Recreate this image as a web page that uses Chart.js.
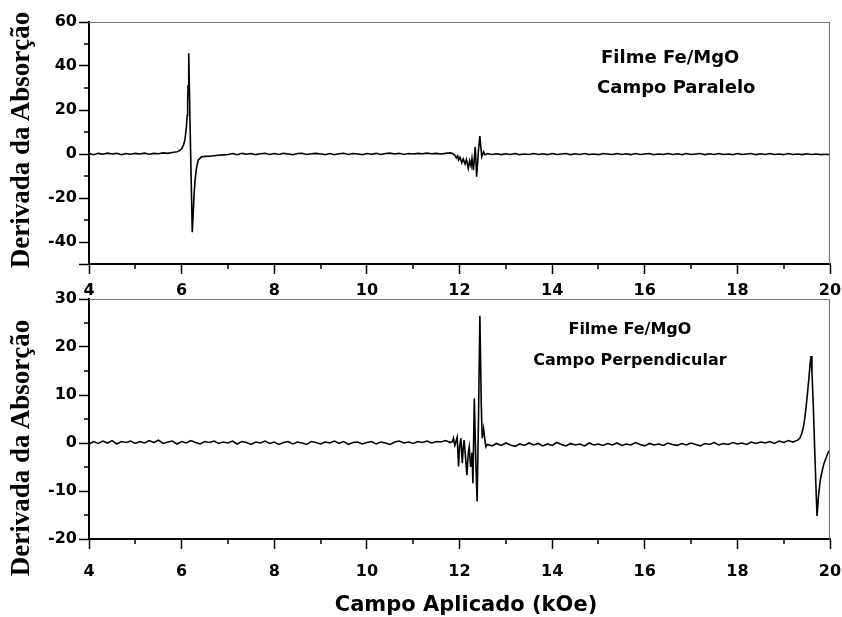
<!DOCTYPE html>
<html>
<head>
<meta charset="utf-8">
<title>Derivada da Absorção</title>
<script src="https://cdn.jsdelivr.net/npm/chart.js@4.4.0/dist/chart.umd.min.js"></script>
<style>
  body { margin: 0; background: #fff; }
  #wrap { position: relative; width: 842px; height: 617px; overflow: hidden; }
  #wrap canvas { position: absolute; left: 0; }
  .ytitle {
    position: absolute; width: 300px; height: 32px; line-height: 32px;
    text-align: center; white-space: nowrap; color: #000;
    font: bold 27px "Liberation Serif", "Times New Roman", serif;
    transform: rotate(-90deg);
  }
  .xtitle {
    position: absolute; width: 400px; height: 26px; line-height: 26px;
    text-align: center; white-space: nowrap; color: #000;
    font: bold 21px "DejaVu Sans", sans-serif;
  }
</style>
</head>
<body>
<div id="wrap">
  <canvas id="topChart" width="842" height="300" style="top:0px"></canvas>
  <canvas id="bottomChart" width="842" height="320" style="top:280px"></canvas>
  <div class="ytitle" style="left:-129px; top:124px;">Derivada da Absorção</div>
  <div class="ytitle" style="left:-129px; top:432px;">Derivada da Absorção</div>
  <div class="xtitle" style="left:266px; top:592px;">Campo Aplicado (kOe)</div>
</div>
<script>
// tick values
var xMajor = [4, 6, 8, 10, 12, 14, 16, 18, 20];
var xMinor = [5, 7, 9, 11, 13, 15, 17, 19];
var yMajorTop = [-50, -40, -20, 0, 20, 40, 60];
var yMinorTop = [-30, -10, 10, 30, 50];
var yMajorBottom = [-20, -10, 0, 10, 20, 30];
var yMinorBottom = [-15, -5, 5, 15, 25];

// campo paralelo (kOe, derivada)
var fieldTop = [
  4.0,4.1,4.2,4.3,4.4,4.5,4.6,4.7,4.8,4.9,
  5.0,5.1,5.2,5.3,5.4,5.5,5.6,5.7,5.8,5.9,
  5.95,6.0,6.04,6.07,6.1,6.12,6.13,6.14,6.15,6.157,6.19,6.23,6.25,6.27,6.29,6.32,6.36,6.43,6.5,6.6,6.7,6.8,6.9,
  7.0,7.1,7.2,7.3,7.4,7.5,7.6,7.7,7.8,7.9,
  8.0,8.1,8.2,8.3,8.4,8.5,8.6,8.7,8.8,8.9,
  9.0,9.1,9.2,9.3,9.4,9.5,9.6,9.7,9.8,9.9,
  10.0,10.1,10.2,10.3,10.4,10.5,10.6,10.7,10.8,10.9,
  11.0,11.1,11.2,11.3,11.4,11.5,11.6,11.7,11.8,
  11.85,11.9,11.93,11.96,11.98,12.01,12.05,12.08,12.12,12.15,12.19,12.22,12.25,12.27,12.3,12.34,12.37,12.41,12.44,12.48,12.52,12.55,
  12.6,12.7,12.8,12.9,13.0,13.1,13.2,13.3,13.4,13.5,
  13.6,13.7,13.8,13.9,14.0,14.1,14.2,14.3,14.4,14.5,
  14.6,14.7,14.8,14.9,15.0,15.1,15.2,15.3,15.4,15.5,
  15.6,15.7,15.8,15.9,16.0,16.1,16.2,16.3,16.4,16.5,
  16.6,16.7,16.8,16.9,17.0,17.1,17.2,17.3,17.4,17.5,
  17.6,17.7,17.8,17.9,18.0,18.1,18.2,18.3,18.4,18.5,
  18.6,18.7,18.8,18.9,19.0,19.1,19.2,19.3,19.4,19.5,
  19.6,19.7,19.8,19.9,20.0
];
var derivTop = [
  0.2,-0.3,0.3,-0.1,0.4,0.0,0.3,-0.3,0.2,-0.1,
  0.3,0.0,0.4,-0.1,0.3,0.1,0.5,0.3,0.7,1.0,
  1.4,2.4,4.0,6.4,11.5,17.5,23.5,31,40,45.8,5,-35.6,-27,-18,-12,-6.5,-2.7,-1.3,-1.1,-1.0,-0.8,-0.6,-0.4,
  -0.2,0.2,-0.3,0.3,-0.1,0.2,-0.3,0.1,0.3,-0.2,
  0.2,-0.2,0.3,0.0,-0.3,0.2,0.3,-0.2,0.1,0.3,
  0.0,-0.3,0.2,-0.3,0.1,0.3,-0.2,0.2,0.0,-0.3,
  0.2,-0.1,0.3,-0.2,0.2,0.4,0.0,0.3,-0.2,0.2,
  0.0,0.3,0.1,0.4,0.1,0.3,0.0,0.3,0.5,
  0.2,-0.6,-1.8,-0.8,-2.7,-1.5,-4.0,-2.2,-4.5,-2.5,-6.5,-3.0,-5.5,-2.0,-7.4,3.3,-10.3,1.8,8.2,-1.2,1.0,-0.3,
  0.2,-0.2,0.1,-0.3,0.1,-0.2,0.2,-0.3,0.0,-0.2,
  0.2,-0.2,0.1,-0.3,0.2,-0.2,0.0,0.2,-0.3,0.1,
  -0.2,0.2,-0.2,0.0,-0.3,0.2,0.0,-0.2,0.2,-0.2,
  0.1,-0.3,0.2,-0.2,0.0,0.2,-0.3,0.0,-0.2,0.2,
  -0.2,0.1,-0.3,0.2,-0.2,0.0,0.2,-0.3,0.1,-0.2,
  0.2,-0.2,0.0,-0.3,0.2,-0.2,0.0,0.2,-0.3,0.1,
  -0.2,0.2,-0.2,0.0,-0.3,0.2,-0.2,0.0,-0.3,0.1,
  -0.2,0.0,-0.3,-0.1,-0.2
];

// campo perpendicular (kOe, derivada)
var fieldBottom = [
  4.0,4.1,4.2,4.3,4.4,4.5,4.6,4.7,4.8,4.9,
  5.0,5.1,5.2,5.3,5.4,5.5,5.6,5.7,5.8,5.9,
  6.0,6.1,6.2,6.3,6.4,6.5,6.6,6.7,6.8,6.9,
  7.0,7.1,7.2,7.3,7.4,7.5,7.6,7.7,7.8,7.9,
  8.0,8.1,8.2,8.3,8.4,8.5,8.6,8.7,8.8,8.9,
  9.0,9.1,9.2,9.3,9.4,9.5,9.6,9.7,9.8,9.9,
  10.0,10.1,10.2,10.3,10.4,10.5,10.6,10.7,10.8,10.9,
  11.0,11.1,11.2,11.3,11.4,11.5,11.6,11.7,11.8,
  11.85,11.87,11.9,11.95,11.98,12.0,12.03,12.06,12.08,12.1,12.13,12.16,12.19,12.21,12.24,12.27,12.29,12.32,12.35,12.38,12.41,12.44,12.47,12.49,12.52,12.55,12.57,
  12.6,12.7,12.8,12.9,13.0,13.1,13.2,13.3,13.4,13.5,
  13.6,13.7,13.8,13.9,14.0,14.1,14.2,14.3,14.4,14.5,
  14.6,14.7,14.8,14.9,15.0,15.1,15.2,15.3,15.4,15.5,
  15.6,15.7,15.8,15.9,16.0,16.1,16.2,16.3,16.4,16.5,
  16.6,16.7,16.8,16.9,17.0,17.1,17.2,17.3,17.4,17.5,
  17.6,17.7,17.8,17.9,18.0,18.1,18.2,18.3,18.4,18.5,
  18.6,18.7,18.8,18.9,19.0,19.1,19.2,19.3,
  19.35,19.39,19.43,19.46,19.5,19.54,19.57,19.59,19.61,19.64,19.67,19.7,19.72,19.75,19.79,19.82,19.86,19.9,19.95,19.97,20.0
];
var derivBottom = [
  -0.2,0.3,-0.1,0.4,0.0,0.5,-0.2,0.3,0.1,0.4,
  -0.1,0.3,0.0,0.5,0.1,0.6,-0.1,0.2,0.4,-0.2,
  0.3,0.0,0.5,0.1,-0.2,0.3,0.1,0.4,-0.1,0.2,
  0.0,0.4,-0.2,0.3,0.1,-0.3,0.2,0.0,0.4,-0.1,
  0.2,-0.3,0.1,0.3,-0.2,0.2,0.0,-0.3,0.3,0.1,
  -0.2,0.2,0.0,0.4,-0.1,0.3,-0.3,0.1,0.2,-0.2,
  0.1,0.3,-0.2,0.2,0.0,-0.3,0.2,0.4,0.0,0.2,
  -0.1,0.3,0.1,0.4,0.0,0.3,0.2,0.5,0.1,
  0.3,1.0,-0.5,1.2,-4.9,-1.0,1.0,-4.2,-1.0,0.6,-3.0,-6.7,-2.0,-0.8,-5.0,-2.0,-8.4,9.3,-3.0,-12.2,5.0,26.5,8.0,1.0,3.0,0.5,-0.8,
  -0.3,-0.6,-0.1,-0.5,0.0,-0.4,-0.7,-0.2,-0.5,0.0,
  -0.4,-0.1,-0.6,-0.2,-0.5,0.1,-0.3,-0.6,-0.1,-0.4,
  -0.2,-0.6,0.0,-0.4,-0.2,-0.5,-0.1,-0.4,0.0,-0.5,
  -0.2,-0.4,0.1,-0.3,-0.6,-0.1,-0.4,-0.2,-0.5,0.0,
  -0.3,-0.5,-0.1,-0.4,0.0,-0.3,-0.6,-0.1,-0.3,0.1,
  -0.4,-0.1,-0.3,0.1,-0.2,0.0,-0.3,0.2,-0.1,0.2,
  0.0,0.3,-0.1,0.4,0.1,0.5,0.2,0.6,
  1.0,2.0,3.5,5.5,9.0,13.0,16.5,18.1,15.0,7.6,-1.5,-10.0,-15.2,-11.2,-7.7,-6.3,-4.6,-3.5,-2.2,-1.8,-1.5
];

var notesTop = [
  { text: 'Filme Fe/MgO', x: 16.55, y: 43.6 },
  { text: 'Campo Paralelo', x: 16.68, y: 30 }
];
var notesBottom = [
  { text: 'Filme Fe/MgO', x: 15.68, y: 23.5 },
  { text: 'Campo Perpendicular', x: 15.68, y: 17.1 }
];

// frame on top/right, minor ticks and the sample notes
var panelExtras = {
  id: 'panelExtras',
  afterDraw: function(chart, args, opts) {
    var ctx = chart.ctx, a = chart.chartArea, sx = chart.scales.x, sy = chart.scales.y;
    ctx.save();
    ctx.strokeStyle = '#777';
    ctx.lineWidth = 1.2;
    ctx.beginPath();
    ctx.moveTo(a.left, a.top + 0.5);
    ctx.lineTo(a.right - 0.5, a.top + 0.5);
    ctx.lineTo(a.right - 0.5, a.bottom);
    ctx.stroke();

    ctx.strokeStyle = '#000';
    ctx.lineWidth = 1.5;
    ctx.beginPath();
    opts.minorX.forEach(function(v) {
      var px = Math.round(sx.getPixelForValue(v));
      ctx.moveTo(px, a.bottom);
      ctx.lineTo(px, a.bottom + 5);
    });
    opts.minorY.forEach(function(v) {
      var py = Math.round(sy.getPixelForValue(v));
      ctx.moveTo(a.left - 5, py);
      ctx.lineTo(a.left, py);
    });
    ctx.stroke();

    ctx.fillStyle = '#000';
    ctx.textAlign = 'center';
    ctx.textBaseline = 'middle';
    ctx.font = opts.noteFont;
    opts.notes.forEach(function(n) {
      ctx.fillText(n.text, sx.getPixelForValue(n.x), sy.getPixelForValue(n.y));
    });
    ctx.restore();
  }
};

var tickFont = { family: 'DejaVu Sans', size: 16, weight: 'bold' };

function makePanel(id, xs, ys, yMin, yMax, yMajor, yMinor, notes, noteFont, padTop, xAxisHeight, xPad) {
  var points = xs.map(function(x, i) { return { x: x, y: ys[i] }; });
  return new Chart(document.getElementById(id), {
    type: 'scatter',
    data: {
      datasets: [{
        data: points,
        showLine: true,
        borderColor: '#000',
        borderWidth: 1.6,
        pointRadius: 0,
        tension: 0
      }]
    },
    options: {
      responsive: false,
      animation: false,
      layout: { padding: { top: padTop, right: 12, left: 0, bottom: 0 } },
      plugins: {
        legend: { display: false },
        tooltip: { enabled: false },
        panelExtras: { minorX: xMinor, minorY: yMinor, notes: notes, noteFont: noteFont }
      },
      scales: {
        x: {
          type: 'linear', min: 4, max: 20,
          afterBuildTicks: function(s) { s.ticks = xMajor.map(function(v) { return { value: v }; }); },
          afterFit: function(s) { s.height = xAxisHeight; s.paddingLeft = 0; s.paddingRight = 0; },
          ticks: { font: tickFont, color: '#000', padding: xPad, maxRotation: 0, autoSkip: false },
          grid: { drawOnChartArea: false, tickLength: 10, tickWidth: 1.5, tickColor: '#000' },
          border: { color: '#000', width: 2 }
        },
        y: {
          min: yMin, max: yMax,
          afterBuildTicks: function(s) { s.ticks = yMajor.map(function(v) { return { value: v }; }); },
          afterFit: function(s) { s.width = 89; s.paddingTop = 0; s.paddingBottom = 0; },
          ticks: {
            font: tickFont, color: '#000', padding: 2, autoSkip: false,
            callback: function(v) { return v === -50 ? '' : v; }
          },
          grid: { drawOnChartArea: false, tickLength: 10, tickWidth: 1.5, tickColor: '#000' },
          border: { color: '#000', width: 2 }
        }
      }
    },
    plugins: [panelExtras]
  });
}

makePanel('topChart', fieldTop, derivTop, -50, 60, yMajorTop, yMinorTop, notesTop,
  'bold 18px "DejaVu Sans"', 22, 36, 7);
makePanel('bottomChart', fieldBottom, derivBottom, -20, 30, yMajorBottom, yMinorBottom, notesBottom,
  'bold 16px "DejaVu Sans"', 19, 61, 13);
</script>
</body>
</html>
